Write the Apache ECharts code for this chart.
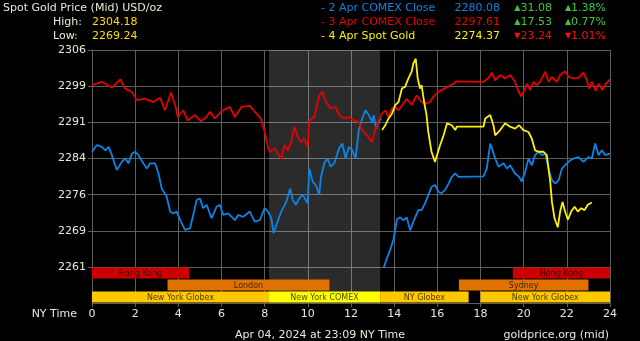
<!DOCTYPE html>
<html><head><meta charset="utf-8">
<script src="https://cdn.jsdelivr.net/npm/echarts@6/dist/echarts.min.js"></script>
<style>html,body{margin:0;padding:0;background:#000;}#c{width:640px;height:341px;}</style>
</head><body><div id="c"></div><script>
// ---- data ----
const xTicks = [0,2,4,6,8,10,12,14,16,18,20,22,24];
const xTickLabels = ['0','2','4','6','8','10','12','14','16','18','20','22','24'];
const yTicks = [2261, 2268.5, 2276, 2283.5, 2291, 2298.5, 2306];
const yTickLabels = ['2261','2269','2276','2284','2291','2299','2306'];

const seriesNames = ['2 Apr COMEX Close','3 Apr COMEX Close','4 Apr Spot Gold'];
const closeValues = ['2280.08','2297.61','2274.37'];
const changeValues = ['31.08','17.53','23.24'];
const changePcts = ['1.38%','0.77%','1.01%'];
const changeUp = [true, true, false];
const highLowLabels = ['High:','Low:'];
const highLowValues = ['2304.18','2269.24'];

const apr2 = [[0,2284.9],[0.23,2286.3],[0.46,2285.9],[0.62,2285.2],[0.77,2285.9],[0.92,2284.2],[1.15,2281.1],[1.38,2282.8],[1.54,2283.5],[1.69,2282.5],[1.85,2284.5],[2.0,2284.9],[2.15,2284.2],[2.38,2282.5],[2.54,2281.4],[2.69,2282.5],[2.92,2282.5],[3.08,2280.4],[3.23,2277.3],[3.46,2275.6],[3.62,2272.5],[3.77,2272.1],[3.92,2272.5],[4.12,2270.4],[4.31,2268.7],[4.54,2269.0],[4.69,2271.8],[4.85,2274.9],[5.0,2275.2],[5.15,2273.2],[5.31,2273.9],[5.54,2271.1],[5.77,2273.5],[5.92,2273.9],[6.08,2271.8],[6.31,2272.1],[6.62,2270.7],[6.77,2271.8],[7.0,2271.4],[7.31,2272.5],[7.54,2270.4],[7.77,2270.7],[8.0,2273.2],[8.15,2272.5],[8.31,2271.1],[8.41,2268.0],[8.54,2269.7],[8.77,2272.5],[9.0,2274.5],[9.18,2277.3],[9.3,2274.9],[9.45,2273.9],[9.6,2275.2],[9.76,2276.0],[9.99,2274.2],[10.07,2281.4],[10.22,2278.7],[10.37,2278.0],[10.53,2276.0],[10.6,2279.4],[10.76,2282.5],[10.91,2283.5],[11.06,2281.8],[11.22,2282.5],[11.45,2285.6],[11.6,2286.6],[11.75,2283.5],[11.9,2285.9],[12.06,2285.2],[12.21,2283.5],[12.36,2289.4],[12.52,2291.8],[12.67,2293.5],[12.82,2292.5],[12.98,2291.1],[13.05,2292.5],[13.16,2289.7],[13.28,2291.1],[13.4,2291.8],[13.45,'-'],[13.51,2260.8],[13.67,2262.9],[13.82,2264.6],[13.97,2266.7],[14.13,2270.9],[14.28,2271.3],[14.43,2270.7],[14.58,2271.3],[14.74,2268.6],[14.89,2270.4],[15.12,2272.8],[15.27,2272.8],[15.43,2274.2],[15.58,2275.9],[15.73,2277.6],[15.89,2278.0],[16.05,2276.6],[16.2,2276.3],[16.36,2277.0],[16.52,2278.3],[16.67,2279.7],[16.83,2280.4],[16.98,2279.7],[18.14,2279.8],[18.29,2281.4],[18.45,2286.6],[18.53,2285.6],[18.68,2283.5],[18.83,2281.8],[19.07,2282.5],[19.22,2281.4],[19.37,2282.1],[19.6,2280.4],[19.79,2279.7],[19.91,2278.7],[20.07,2280.7],[20.22,2283.5],[20.38,2282.1],[20.53,2284.2],[20.69,2284.9],[20.84,2284.2],[21.0,2284.5],[21.15,2281.4],[21.31,2279.0],[21.46,2278.3],[21.62,2279.0],[21.77,2281.4],[21.92,2282.1],[22.15,2283.1],[22.31,2283.5],[22.54,2283.8],[22.77,2282.8],[23.0,2283.8],[23.16,2283.5],[23.31,2286.6],[23.47,2284.2],[23.62,2285.2],[23.78,2284.2],[24,2284.5]];

const apr3 = [[0,2298.7],[0.46,2299.4],[0.92,2298.2],[1.31,2299.9],[1.54,2298.0],[1.85,2297.3],[2.08,2295.6],[2.46,2295.9],[2.85,2295.2],[3.15,2296.1],[3.38,2293.5],[3.66,2297.2],[3.88,2294.2],[3.97,2292.1],[4.23,2293.5],[4.43,2291.4],[4.77,2292.5],[5.05,2291.2],[5.3,2292.1],[5.46,2293.2],[5.69,2291.8],[6.0,2293.3],[6.38,2294.2],[6.62,2292.1],[6.92,2294.2],[7.31,2294.4],[7.54,2293.2],[7.82,2291.8],[8.0,2289.0],[8.15,2285.9],[8.23,2284.9],[8.46,2285.6],[8.61,2284.5],[8.77,2283.5],[8.92,2286.3],[9.07,2285.2],[9.23,2286.9],[9.38,2290.1],[9.53,2288.0],[9.68,2286.9],[9.84,2287.6],[9.99,2285.9],[10.07,2291.4],[10.3,2292.1],[10.53,2296.6],[10.68,2297.3],[10.84,2295.2],[11.06,2293.9],[11.29,2294.2],[11.45,2292.5],[11.68,2291.8],[11.9,2292.1],[12.13,2291.4],[12.36,2291.1],[12.52,2289.4],[12.75,2288.3],[12.98,2286.9],[13.13,2289.7],[13.28,2291.4],[13.43,2292.8],[13.59,2293.5],[13.74,2292.1],[13.9,2293.9],[14.05,2294.2],[14.2,2293.5],[14.43,2294.9],[14.58,2295.9],[14.81,2294.6],[15.04,2296.6],[15.27,2295.2],[15.43,2294.9],[15.66,2295.2],[15.81,2296.3],[16.04,2297.3],[16.37,2298.1],[16.6,2298.6],[16.9,2299.5],[18.14,2299.4],[18.37,2300.2],[18.53,2301.3],[18.68,2299.7],[18.91,2300.8],[19.14,2300.1],[19.37,2300.8],[19.6,2299.4],[19.73,2297.7],[19.88,2296.4],[19.99,2297.3],[20.15,2299.0],[20.3,2297.7],[20.46,2299.4],[20.61,2298.7],[20.76,2299.4],[21.0,2301.5],[21.15,2299.4],[21.3,2300.4],[21.54,2299.4],[21.69,2300.8],[21.92,2301.6],[22.08,2300.4],[22.31,2300.1],[22.54,2300.2],[22.77,2301.3],[22.93,2299.7],[23.03,2298.0],[23.16,2299.4],[23.34,2297.5],[23.47,2299.0],[23.65,2297.7],[23.78,2298.8],[24,2299.9]];

const apr4 = [[13.44,2289.4],[13.59,2290.4],[13.74,2291.8],[13.9,2292.8],[14.05,2294.6],[14.2,2295.2],[14.36,2298.0],[14.51,2298.4],[14.66,2300.1],[14.81,2301.5],[14.89,2303.2],[15.0,2304.18],[15.09,2300.1],[15.2,2298.0],[15.27,2298.7],[15.4,2294.9],[15.5,2292.5],[15.58,2289.0],[15.73,2284.9],[15.89,2282.8],[15.98,2282.8],[16.13,2286.3],[16.29,2288.3],[16.45,2290.8],[16.67,2290.4],[16.83,2289.4],[16.9,2290.1],[18.14,2290.1],[18.22,2291.8],[18.45,2292.5],[18.6,2290.4],[18.68,2288.3],[18.91,2289.4],[19.14,2290.8],[19.37,2290.1],[19.6,2289.7],[19.79,2290.4],[19.99,2289.4],[20.22,2289.0],[20.38,2287.6],[20.53,2285.2],[20.69,2284.9],[20.92,2284.9],[21.07,2284.2],[21.23,2278.7],[21.31,2274.5],[21.43,2271.1],[21.58,2269.24],[21.69,2272.5],[21.8,2274.5],[21.92,2272.5],[22.05,2270.8],[22.2,2272.5],[22.36,2273.5],[22.51,2272.5],[22.66,2273.2],[22.82,2272.8],[22.97,2273.9],[23.16,2274.37]];

const sessionNames = ['Hong Kong','London','New York Globex','New York COMEX','NY Globex','Sydney','Hong Kong','New York Globex'];
const sessionStart = [0, 3.5, 0, 8.2, 13.35, 17, 19.5, 18];
const sessionEnd   = [4.5, 11, 8.2, 13.35, 17.45, 23, 24, 24];
const sessionRow   = [0, 1, 2, 2, 2, 1, 0, 2];
const sessionRows  = ['hk', 'eu', 'ny'];
const comexShade = [8.2, 13.35];

const footerDate = 'Apr 04, 2024 at 23:09 NY Time';
const footerSource = 'goldprice.org (mid)';
const xAxisTitle = 'NY Time';
const chartTitle = 'Spot Gold Price (Mid) USD/oz';

// ---- styles ----
const FONT = '"DejaVu Sans", Verdana, sans-serif';
const lineColors = ['#0a84e6', '#e60000', '#fff000'];
const gridColor = '#5e5e5e';
const labelColor = '#e4ecd4';
const sessionColor = {
  'Hong Kong': '#cc0000', 'London': '#e27200', 'Sydney': '#e27200',
  'New York Globex': '#ffc800', 'NY Globex': '#ffc800', 'New York COMEX': '#ffff00'
};

const chart = echarts.init(document.getElementById('c'), null, {renderer: 'canvas'});

const graphics = [];
graphics.push({type:'text', x:3, y:8, style:{text:chartTitle, fill:labelColor, font:'11px '+FONT, verticalAlign:'middle'}});
highLowLabels.forEach((l,i)=>{
  graphics.push({type:'text', x:53, y:22+14*i, style:{text:l, fill:labelColor, font:'11px '+FONT, verticalAlign:'middle'}});
  graphics.push({type:'text', x:92, y:22+14*i, style:{text:highLowValues[i], fill:'#ffdd00', font:'11px '+FONT, verticalAlign:'middle'}});
});
seriesNames.forEach((n,i)=>{
  const y = 8 + 14*i;
  graphics.push({type:'text', x:321, y, style:{text:'- '+n, fill:lineColors[i], font:'11px '+FONT, verticalAlign:'middle'}});
  graphics.push({type:'text', x:500, y, style:{text:closeValues[i], fill:lineColors[i], font:'11px '+FONT, align:'right', verticalAlign:'middle'}});
  const c = changeUp[i] ? '#3cc83c' : '#f01010';
  const tri = changeUp[i] ? '▲' : '▼';
  const rich = {t:{fontSize:8, fill:c, fontFamily:'DejaVu Sans'}, v:{fontSize:11, fill:c, fontFamily:'DejaVu Sans'}};
  graphics.push({type:'text', x:552, y, style:{text:'{t|'+tri+'}{v|'+changeValues[i]+'}', rich, align:'right', verticalAlign:'middle'}});
  graphics.push({type:'text', x:606, y, style:{text:'{t|'+tri+'}{v|'+changePcts[i]+'}', rich, align:'right', verticalAlign:'middle'}});
});
graphics.push({type:'text', x:77, y:314, style:{text:xAxisTitle, fill:labelColor, font:'11px '+FONT, align:'right', verticalAlign:'middle'}});
graphics.push({type:'text', x:320, y:335, style:{text:footerDate, fill:labelColor, font:'11px '+FONT, align:'center', verticalAlign:'middle'}});
graphics.push({type:'text', x:609, y:335, style:{text:footerSource, fill:labelColor, font:'11px '+FONT, align:'right', verticalAlign:'middle'}});

const option = {
  backgroundColor: '#000',
  animation: false,
  graphic: graphics,
  grid: [
    {left: 92, right: 30, top: 50, height: 217},
    {left: 92, right: 30, top: 267, height: 36}
  ],
  xAxis: [
    {gridIndex:0, type:'value', min:0, max:24, interval:2,
      axisLine:{show:false}, axisTick:{show:false}, axisLabel:{show:false},
      splitLine:{show:true, lineStyle:{color:gridColor, width:1}}},
    {gridIndex:1, type:'value', min:0, max:24, interval:2,
      axisLine:{show:true, onZero:false, lineStyle:{color:gridColor}},
      axisTick:{show:true, length:4, lineStyle:{color:gridColor}},
      axisLabel:{color:labelColor, fontFamily:'DejaVu Sans', fontSize:11, margin:6,
        formatter: v => { const i = xTicks.indexOf(v); return i >= 0 ? xTickLabels[i] : ''; }},
      splitLine:{show:true, lineStyle:{color:gridColor, width:1}}}
  ],
  yAxis: [
    {gridIndex:0, type:'value', min:yTicks[0], max:yTicks[yTicks.length-1], interval:7.5,
      axisLine:{show:true, lineStyle:{color:gridColor}},
      axisTick:{show:true, length:4, lineStyle:{color:gridColor}},
      axisLabel:{color:labelColor, fontFamily:'DejaVu Sans', fontSize:11, margin:6,
        formatter: v => { const i = yTicks.findIndex(t => Math.abs(t - v) < 0.01); return i >= 0 ? yTickLabels[i] : ''; }},
      splitLine:{show:true, lineStyle:{color:gridColor, width:1}}},
    {gridIndex:1, type:'category', data:sessionRows, inverse:true,
      axisLine:{show:true, lineStyle:{color:gridColor}}, axisTick:{show:false}, axisLabel:{show:false},
      splitLine:{show:false}}
  ],
  series: [
    {type:'line', xAxisIndex:0, yAxisIndex:0, data:[], z:1, silent:true,
      markArea:{silent:true, itemStyle:{color:'rgba(255,255,255,0.17)'},
        data:[[{xAxis:comexShade[0]},{xAxis:comexShade[1]}]]}},
    {type:'line', xAxisIndex:1, yAxisIndex:1, data:[], z:1, silent:true,
      markArea:{silent:true, itemStyle:{color:'rgba(255,255,255,0.17)'},
        data:[[{xAxis:comexShade[0]},{xAxis:comexShade[1]}]]}},
    {type:'custom', xAxisIndex:1, yAxisIndex:1, z:3, silent:true,
      data: sessionNames.map((n,i)=>[sessionStart[i], sessionEnd[i], sessionRow[i]]),
      encode:{x:[0,1], y:2},
      renderItem: (params, api) => {
        const idx = params.dataIndex;
        const s = api.coord([api.value(0), api.value(2)]);
        const e = api.coord([api.value(1), api.value(2)]);
        const h = api.size([0,1])[1];
        const name = sessionNames[idx];
        return {type:'group', children:[
          {type:'rect', shape:{x:s[0], y:s[1]-h/2+0.5, width:e[0]-s[0], height:h-1},
            style:{fill: sessionColor[name]}},
          {type:'text', style:{text:name, x:(s[0]+e[0])/2, y:s[1]+0.5, align:'center', verticalAlign:'middle',
            fill:'rgba(0,0,0,0.72)', font:'8px "DejaVu Sans"'}}
        ]};
      }},
    {type:'line', name:seriesNames[0], xAxisIndex:0, yAxisIndex:0, data:apr2, showSymbol:false, symbol:'none',
      connectNulls:false, lineStyle:{color:lineColors[0], width:1.8}, z:4},
    {type:'line', name:seriesNames[1], xAxisIndex:0, yAxisIndex:0, data:apr3, showSymbol:false, symbol:'none',
      lineStyle:{color:lineColors[1], width:1.8}, z:5},
    {type:'line', name:seriesNames[2], xAxisIndex:0, yAxisIndex:0, data:apr4, showSymbol:false, symbol:'none',
      lineStyle:{color:lineColors[2], width:1.8}, z:6}
  ]
};
chart.setOption(option);
</script></body></html>
